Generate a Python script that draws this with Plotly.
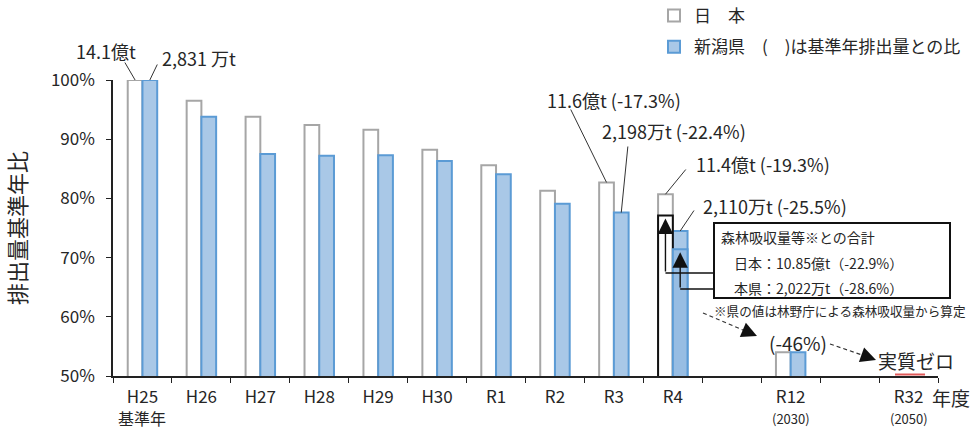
import plotly.graph_objects as go

# ---------------- data ----------------
categories = ["H25", "H26", "H27", "H28", "H29", "H30", "R1", "R2", "R3", "R4",
              "gap1", "R12", "gap2", "R32"]
tick_labels = ["H25", "H26", "H27", "H28", "H29", "H30", "R1", "R2", "R3", "R4",
               "", "R12", "", "R32"]
sub_labels = {"H25": "基準年", "R12": "(2030)", "R32": "(2050)"}
japan = [100, 96.5, 93.8, 92.4, 91.6, 88.2, 85.6, 81.3, 82.7, 80.7, None, 54, None, None]
niigata = [100, 93.8, 87.5, 87.2, 87.3, 86.3, 84.1, 79.1, 77.6, 74.5, None, 54, None, None]
# R4 values including forest absorption
forest_cat = ["R4"]
forest_japan = [77.1]
forest_niigata = [71.4]

# ---------------- geometry helpers ----------------
L, R, T, B = 113, 938, 80, 376
W, H = R - L, B - T
NCAT = len(categories)
SLOT = W / NCAT
YMIN, YMAX = 50, 100
BW = 0.25


def px(x):
    return (x - L) / W


def py(y):
    return (B - y) / H


def xpix(cat, off):
    return L + (categories.index(cat) + 0.5 + off) * SLOT


def ypix(v):
    return B - (v - YMIN) / (YMAX - YMIN) * H


FONT = "Noto Sans CJK JP, sans-serif"
TXT = "#262626"
GRAY = "#a6a6a6"
BLUE_FILL = "#a9c8e7"
BLUE_LINE = "#5b9bd5"

fig = go.Figure()
fig.add_trace(go.Bar(x=categories, y=japan, name="日　本", width=BW, offset=-BW,
                     legendgroup="jp",
                     marker=dict(color="white", line=dict(color=GRAY, width=2))))
fig.add_trace(go.Bar(x=categories, y=niigata, name="新潟県　(　)は基準年排出量との比",
                     width=BW, offset=0, legendgroup="ni",
                     marker=dict(color=BLUE_FILL, line=dict(color=BLUE_LINE, width=2))))
fig.add_trace(go.Bar(x=forest_cat, y=forest_japan, width=BW, offset=-BW, showlegend=False,
                     legendgroup="jp",
                     marker=dict(color="white", line=dict(color="#111111", width=2))))
fig.add_trace(go.Bar(x=forest_cat, y=forest_niigata, width=BW, offset=0, showlegend=False,
                     legendgroup="ni",
                     marker=dict(color="#97bde3", line=dict(color=BLUE_LINE, width=2))))

ann = []
shapes = []


def text(x, y, s, size=18, xanchor="center"):
    ann.append(dict(x=px(x), y=py(y), xref="paper", yref="paper", text=s, showarrow=False,
                    xanchor=xanchor, yanchor="middle", font=dict(size=size, color=TXT)))


def leader(cat, off, val, tx, ty):
    x0, y0 = xpix(cat, off), ypix(val)
    ann.append(dict(x=px(x0), y=py(y0), xref="paper", yref="paper", text="", showarrow=True,
                    arrowhead=0, arrowwidth=1, arrowcolor="#333333",
                    ax=tx - x0, ay=ty - y0))


# second line of some x labels
for cat, s in sub_labels.items():
    if cat == "H25":
        text(xpix(cat, 0), 418, s, 16)
    else:
        text(xpix(cat, 0), 418, s, 13)

# value labels
text(106, 51, "14.1億t", 18)
text(199, 58, "2,831 万t", 18)
leader("H25", -BW / 2, japan[0], 124, 61)
leader("H25", BW / 2, niigata[0], 158, 63)

i3 = categories.index("R3")
i4 = categories.index("R4")
text(614, 100, "11.6億t (-17.3%)", 18)
leader("R3", -BW / 2, japan[i3], 570, 108)
text(674, 131, "2,198万t (-22.4%)", 18)
leader("R3", BW / 2, niigata[i3], 628, 145)
text(763, 164, "11.4億t (-19.3%)", 18)
leader("R4", -BW / 2, japan[i4], 687, 168)
text(775, 206, "2,110万t (-25.5%)", 18)
leader("R4", BW / 2, niigata[i4], 695, 209)

# forest absorption box
shapes.append(dict(type="rect", xref="paper", yref="paper", x0=px(714), x1=px(950),
                   y0=py(298), y1=py(223), line=dict(color="#111111", width=2),
                   fillcolor="white"))
text(719, 237, "森林吸収量等※との合計", 14, "left")
text(732, 263, "日本：10.85億t（-22.9%）", 14, "left")
text(732, 288, "本県：2,022万t（-28.6%）", 14, "left")
text(712, 310, "※県の値は林野庁による森林吸収量から算定", 12.6, "left")

# connectors from box to R4 forest values
for off, val, yline in ((-BW / 2, forest_japan[0], 273), (BW / 2, forest_niigata[0], 289)):
    x0, y0 = xpix("R4", off), ypix(val)
    ann.append(dict(x=px(x0), y=py(y0), xref="paper", yref="paper", text="", showarrow=True,
                    arrowhead=2, arrowsize=2.2, arrowwidth=1.4, arrowcolor="#111111",
                    standoff=3, ax=0, ay=yline - y0))
    shapes.append(dict(type="line", xref="paper", yref="paper", x0=px(x0), x1=px(713),
                       y0=py(yline), y1=py(yline), line=dict(color="#111111", width=1.4)))

# dashed arrows towards 2030 and 2050
text(798, 342, "(-46%)", 19)
text(916, 360, "実質ゼロ", 19)
for (x0, y0, x1, y1) in ((703, 313, 750, 333), (830, 344, 868, 357)):
    shapes.append(dict(type="line", xref="paper", yref="paper", x0=px(x0), y0=py(y0),
                       x1=px(x1), y1=py(y1), line=dict(color="#333333", width=1.2, dash="4px,3px")))
for (tx, ty, dx, dy) in ((757, 336, -14, -6), (876, 360, -14, -5)):
    ann.append(dict(x=px(tx), y=py(ty), xref="paper", yref="paper", text="", showarrow=True,
                    arrowhead=2, arrowsize=2.2, arrowwidth=1.4, arrowcolor="#111111",
                    ax=dx, ay=dy))

# 2050 zero marker
shapes.append(dict(type="line", xref="paper", yref="paper", x0=px(xpix("R32", -0.23)),
                   x1=px(xpix("R32", 0.28)), y0=py(B - 1.5), y1=py(B - 1.5),
                   line=dict(color="#e05a5a", width=2)))

# x-axis unit
text(951, 397, "年度", 19)

fig.update_layout(
    width=973, height=430,
    margin=dict(l=L, r=973 - R, t=T, b=430 - B, pad=0, autoexpand=False),
    paper_bgcolor="white", plot_bgcolor="white",
    font=dict(family=FONT, color=TXT, size=17),
    barmode="overlay",
    showlegend=True,
    legend=dict(x=px(654), y=py(-2), xanchor="left", yanchor="top",
                font=dict(size=17, color=TXT), bgcolor="rgba(0,0,0,0)",
                tracegroupgap=6, traceorder="grouped", itemwidth=30),
    annotations=ann,
    shapes=shapes,
    xaxis=dict(type="category", categoryorder="array", categoryarray=categories,
               tickmode="array", tickvals=categories, ticktext=tick_labels,
               range=[-0.5, NCAT - 0.5], tickson="boundaries", tickangle=0,
               ticks="outside", ticklen=5, tickcolor="#222222", tickwidth=1.2,
               showline=True, linecolor="#222222", linewidth=1.5,
               showgrid=False, ticklabelstandoff=5, automargin=False,
               tickfont=dict(size=17, color=TXT)),
    yaxis=dict(range=[YMIN, YMAX], dtick=10, ticksuffix="%",
               ticks="outside", ticklen=5, tickcolor="#222222", tickwidth=1.2,
               showline=True, linecolor="#222222", linewidth=1.5,
               showgrid=False, zeroline=False, ticklabelstandoff=8, automargin=False,
               tickfont=dict(size=17, color=TXT),
               title=dict(text="排出量基準年比", standoff=18, font=dict(size=22, color=TXT))),
)

fig.write_html("out.html", config={"displayModeBar": False},
               post_script="document.body.style.margin='0';document.body.style.overflow='hidden';")
